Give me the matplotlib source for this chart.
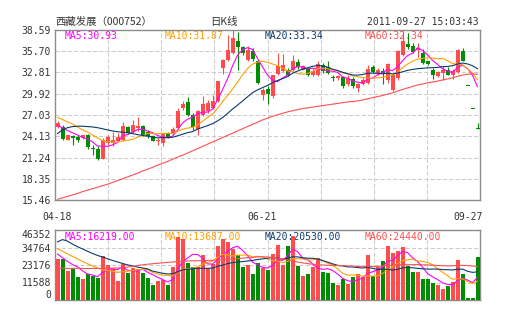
import matplotlib
matplotlib.use("Agg")
import matplotlib.pyplot as plt
import numpy as np
from matplotlib.transforms import blended_transform_factory

# ---------------- data ----------------
opens = [25.35, 25.39, 23.67, 24.21, 24.03, 23.90, 24.35, 22.44, 22.44, 21.08,
         23.22, 23.22, 23.53, 23.67, 25.35, 24.67, 25.26, 25.48, 24.71, 24.21,
         23.44, 23.22, 24.58, 24.44, 25.26, 27.98, 28.79, 26.98, 25.17, 26.98,
         27.52, 27.98, 28.97, 33.42, 34.46, 35.46, 37.14, 36.23, 34.55, 35.77,
         34.33, 29.79, 30.61, 29.57, 32.65, 32.97, 33.19, 33.19, 34.24, 33.19,
         33.33, 32.42, 32.42, 33.78, 33.51, 32.19, 32.06, 32.15, 31.24, 31.97,
         30.70, 31.24, 31.38, 33.51, 32.74, 33.06, 31.79, 30.49, 32.06, 35.23,
         36.66, 36.37, 35.87, 35.46, 34.33, 33.19, 32.29, 32.74, 33.19, 32.51,
         32.88, 35.78, 30.98, 27.88, 25.09]
highs = [26.16, 25.71, 24.35, 24.35, 24.26, 24.35, 24.44, 22.99, 22.76, 23.90,
         24.35, 24.71, 24.53, 26.07, 25.57, 26.39, 26.71, 25.71, 25.03, 24.35,
         23.90, 24.58, 24.71, 25.35, 27.98, 28.88, 29.43, 27.30, 27.75, 29.57,
         29.11, 29.79, 31.70, 34.69, 37.90, 38.59, 38.32, 36.37, 36.37, 36.14,
         34.55, 30.70, 30.93, 32.51, 35.46, 35.32, 33.42, 35.23, 34.64, 33.80,
         33.51, 33.42, 34.33, 34.10, 34.33, 32.51, 32.51, 32.29, 32.51, 32.15,
         31.38, 32.06, 33.87, 33.78, 33.42, 33.42, 34.10, 32.60, 35.90, 38.45,
         38.14, 36.82, 36.78, 36.00, 34.40, 33.42, 33.00, 33.65, 33.51, 33.30,
         36.00, 36.20, 30.98, 27.88, 25.90]
lows = [25.26, 23.67, 23.62, 22.90, 23.31, 23.80, 22.44, 21.63, 20.95, 21.04,
        22.99, 22.76, 23.44, 23.53, 24.44, 24.58, 24.80, 24.21, 23.90, 23.44,
        22.99, 22.80, 23.90, 24.35, 25.17, 27.75, 26.84, 25.03, 24.26, 26.84,
        27.30, 27.89, 28.79, 32.60, 34.33, 35.30, 33.19, 35.24, 34.33, 34.33,
        31.24, 29.11, 28.52, 29.34, 32.51, 32.83, 32.29, 32.97, 33.33, 33.10,
        32.29, 32.29, 32.29, 32.74, 32.60, 31.70, 31.80, 30.70, 30.93, 30.70,
        30.15, 31.11, 31.24, 32.74, 32.51, 31.29, 31.38, 30.35, 31.84, 35.10,
        36.05, 35.46, 34.96, 33.96, 33.80, 31.97, 32.20, 31.84, 32.42, 31.90,
        32.70, 34.33, 30.98, 27.88, 25.09]
closes = [25.94, 23.80, 24.26, 23.90, 23.67, 24.26, 22.63, 22.35, 21.08, 23.67,
          24.03, 23.67, 23.99, 25.57, 24.58, 25.62, 25.48, 24.35, 24.21, 23.53,
          23.62, 24.44, 23.99, 25.17, 27.61, 28.52, 26.98, 25.35, 27.61, 28.52,
          28.66, 28.97, 31.61, 34.57, 35.82, 37.50, 36.23, 35.46, 35.91, 34.64,
          31.38, 30.47, 29.88, 32.42, 33.65, 33.87, 32.51, 34.42, 33.51, 33.65,
          32.42, 33.06, 33.96, 33.06, 32.74, 32.10, 32.28, 30.93, 32.06, 30.93,
          31.24, 31.84, 33.33, 32.88, 33.19, 32.74, 33.96, 32.47, 35.78, 37.05,
          36.30, 35.60, 36.10, 34.10, 33.96, 32.51, 32.88, 33.19, 32.51, 32.96,
          35.91, 34.42, 30.98, 27.88, 25.09]
volumes = [26930, 27370, 19200, 20750, 15450, 13680, 17000, 15900, 14800, 29140,
           23180, 20750, 12580, 24060, 18100, 21410, 20300, 18100, 14350, 9930,
           12580, 13020, 9930, 22070, 41720, 40610, 24720, 21850, 21850, 29580,
           21410, 24060, 35760, 40610, 38400, 33990, 29580, 22070, 22960, 17000,
           24720, 21410, 19860, 30460, 36420, 23170, 35750, 42370, 22510, 15890,
           17210, 21850, 27810, 18760, 18100, 11480, 9930, 13900, 10590, 15230,
           17210, 15230, 29790, 15890, 21850, 25820, 35750, 31340, 32440, 35090,
           22510, 18760, 18760, 13900, 13900, 11480, 9930, 7280, 9270, 12000,
           26260, 16990, 1550, 1100, 28690]

# moving-average values visible at the left edge (history before the window)
ma5_head = [25.6, 25.3, 24.9, 24.6]
ma10_head = [26.7, 26.4, 26.1, 25.8, 25.4, 25.0, 24.7, 24.3, 23.9]
ma20_head = [24.5, 25.0, 25.3, 25.45, 25.5, 25.5, 25.45, 25.4, 25.3, 25.15,
             25.0, 24.85, 24.75, 24.7, 24.6, 24.5, 24.35, 24.25, 24.15]
ma60_head = [15.55, 15.75, 15.95, 16.15, 16.35, 16.6, 16.8, 17.0, 17.2, 17.4,
             17.6, 17.85, 18.1, 18.35, 18.6, 18.85, 19.1, 19.4, 19.65, 19.9,
             20.2, 20.45, 20.7, 21.0, 21.3, 21.55, 21.85, 22.15, 22.45, 22.75,
             23.05, 23.35, 23.65, 23.95, 24.25, 24.55, 24.85, 25.15, 25.45, 25.75,
             26.05, 26.35, 26.6, 26.85, 27.05, 27.25, 27.45, 27.6, 27.75, 27.9,
             28.0, 28.1, 28.2, 28.3, 28.4, 28.5, 28.6, 28.7, 28.8]
vma5_head = [30500, 28000, 25500, 23500]
vma10_head = [34000, 32300, 30500, 28800, 27200, 25500, 24000, 22500, 21200]
vma20_head = [38500, 40000, 39000, 37000, 35300, 33800, 32300, 30800, 29500, 28500,
              27300, 26200, 25200, 24200, 23300, 22500, 21800, 21200, 20600]
vma60_head = [20900, 21000, 20900, 20900, 21000, 20900, 20800, 20900, 20900, 21000,
              21000, 21100, 21200, 21300, 21800, 22300, 22800, 23300, 23700, 24000,
              24300, 24600, 24900, 25200, 25400, 25600, 25800, 25900, 26000, 26100,
              26200, 26300, 26500, 26700, 26900, 27100, 27400, 27700, 28000, 28300,
              28500, 28600, 28500, 28200, 27800, 27200, 26500, 25800, 25200, 24600,
              24100, 23700, 23400, 23200, 23000, 22900, 22800, 22700, 22600]

price_ticks = ["15.46", "18.35", "21.24", "24.13", "27.03", "29.92", "32.81", "35.70", "38.59"]
vol_ticks = ["0", "11588", "23176", "34764", "46352"]
date_labels = ["04-18", "06-21", "09-27"]
date_index = [0, 41, 84]
price_ma_labels = ["MA5:30.93", "MA10:31.87", "MA20:33.34", "MA60:32.34"]
vol_ma_labels = ["MA5:16219.00", "MA10:13687.00", "MA20:20530.00", "MA60:24440.00"]
ma_windows = [5, 10, 20, 60]

title_name = "西藏发展（000752）"
title_mid = "日K线"
title_time = "2011-09-27 15:03:43"

# ---------------- styles ----------------
RED = "#ff4c4c"
GREEN = "#008c00"
MA_COLORS = ["#ff00ff", "#ffa000", "#0b3a6e", "#ff5050"]
GRID = "#cccccc"
FRAME = "#8c8c8c"
TXT = "#333333"
MONO = "DejaVu Sans Mono"
CJK = ["Noto Sans CJK SC", "DejaVu Sans"]


def moving_avg(values, n, head):
    out = list(head)
    for i in range(len(head), len(values)):
        out.append(float(np.mean(values[i - n + 1:i + 1])))
    return np.array(out)


o = np.array(opens); h = np.array(highs); l = np.array(lows); c = np.array(closes)
v = np.array(volumes)
n = len(c)
x = np.arange(n)
cols = [RED if cc > oo else GREEN for oo, cc in zip(o, c)]

price_ma = [moving_avg(c, w, hd) for w, hd in zip(ma_windows, [ma5_head, ma10_head, ma20_head, ma60_head])]
vol_ma = [moving_avg(v, w, hd) for w, hd in zip(ma_windows, [vma5_head, vma10_head, vma20_head, vma60_head])]

W, H = 505, 330
fig = plt.figure(figsize=(W / 100, H / 100), dpi=100)
fig.patch.set_facecolor("white")
ax = fig.add_axes([55 / W, 130 / H, 425 / W, 170 / H])
axv = fig.add_axes([55 / W, 30 / H, 425 / W, 70 / H])

pt = [float(t) for t in price_ticks]
vt = [float(t) for t in vol_ticks]

for a in (ax, axv):
    a.set_xlim(-0.5, n - 0.5)
    a.set_xticks([])
    for s in a.spines.values():
        s.set_color(FRAME)
        s.set_linewidth(1.0)
    a.tick_params(axis="y", length=0, pad=3, labelsize=7, labelcolor=TXT)
    # vertical grid: 8 equal divisions
    for k in range(1, 8):
        a.axvline(-0.5 + n * k / 8, color=GRID, lw=0.75, ls=(0, (4, 2)), zorder=1)

ax.set_ylim(pt[0], pt[-1])
ax.set_yticks(pt)
ax.set_yticklabels(price_ticks, fontfamily=MONO)
for t in pt[1:-1]:
    ax.axhline(t, color=GRID, lw=0.75, ls=(0, (4, 2)), zorder=1)

axv.set_ylim(vt[0], vt[-1])
axv.set_yticks(vt)
axv.set_yticklabels(vol_ticks, fontfamily=MONO)
labs = axv.get_yticklabels()
labs[0].set_va("bottom")
labs[-1].set_va("top")
for t in vt[1:-1]:
    axv.axhline(t, color=GRID, lw=0.75, ls=(0, (4, 2)), zorder=1)

# MA labels (drawn under the marks, as in the reference)
for i, (lab, col) in enumerate(zip(price_ma_labels, MA_COLORS)):
    ax.text(0.0235 + 0.2353 * i, 0.965, lab, transform=ax.transAxes, color=col,
            fontfamily=MONO, fontsize=7, ha="left", va="center", zorder=2)
for i, (lab, col) in enumerate(zip(vol_ma_labels, MA_COLORS)):
    axv.text(0.0235 + 0.2353 * i, 0.905, lab, transform=axv.transAxes, color=col,
             fontfamily=MONO, fontsize=7, ha="left", va="center", zorder=2)

# candles
ax.vlines(x, l, h, colors=cols, linewidth=0.8, zorder=3)
bottoms = np.minimum(o, c)
heights = np.maximum(np.abs(c - o), 0.12)
ax.bar(x, heights, bottom=bottoms, width=0.8, color=cols, linewidth=0, zorder=4)

# volume bars
axv.bar(x, v, width=0.8, color=cols, linewidth=0, zorder=3)

# MA lines
for m, col in zip(price_ma, MA_COLORS):
    ax.plot(x, m, color=col, lw=0.8, zorder=5)
for m, col in zip(vol_ma, MA_COLORS):
    axv.plot(x, m, color=col, lw=0.8, zorder=5)

# date labels
tr = blended_transform_factory(ax.transData, ax.transAxes)
for lab, idx, ha in zip(date_labels, date_index, ["center", "center", "right"]):
    xx = idx if ha == "center" else idx + 1.0
    ax.text(xx, -0.1, lab, transform=tr, ha=ha, va="center", fontfamily=MONO,
            fontsize=7, color=TXT)

# header
yh = 1 - 21.7 / H
fig.text(55 / W, yh, title_name, fontfamily=CJK, fontsize=7.5, color=TXT, ha="left", va="center")
fig.text(224 / W, yh, title_mid, fontfamily=CJK, fontsize=7.5, color=TXT, ha="center", va="center")
fig.text(479 / W, yh, title_time, fontfamily=MONO, fontsize=7, color=TXT, ha="right", va="center")

fig.savefig("out.png", dpi=100, facecolor="white")
